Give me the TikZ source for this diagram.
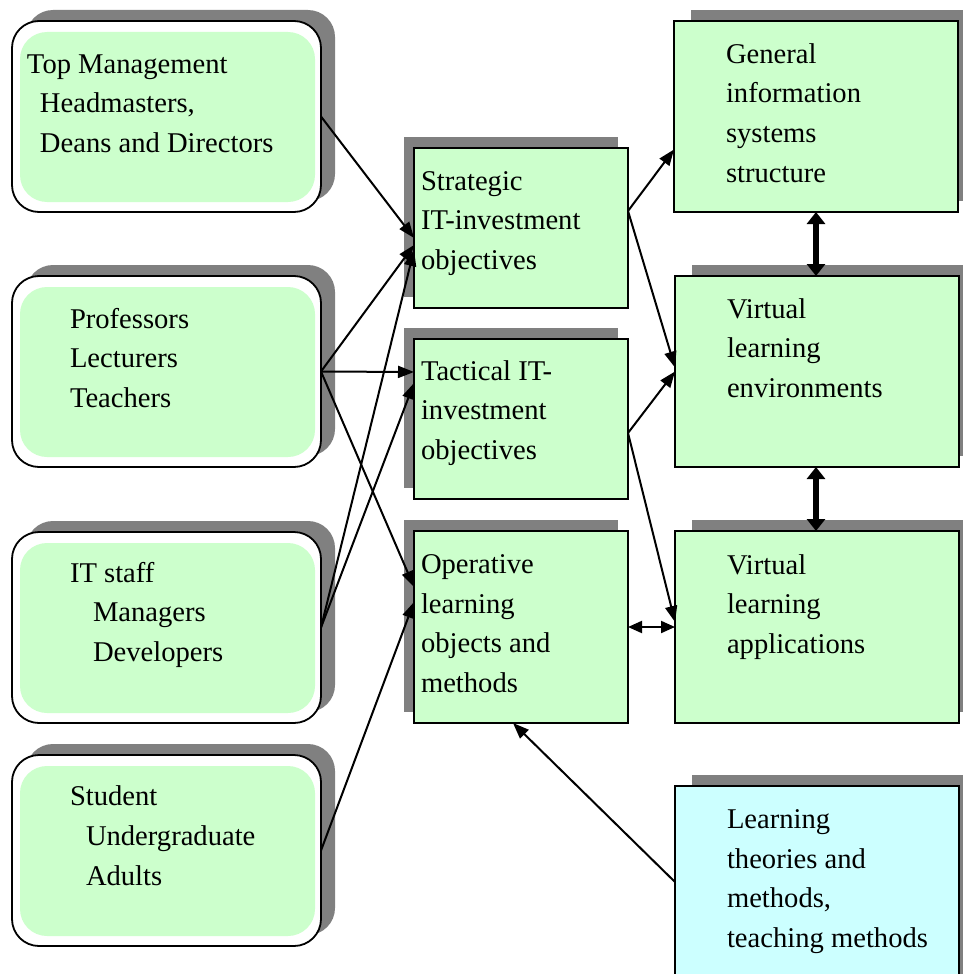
\documentclass[tikz,border=0pt]{standalone}
\usepackage{fontspec}
\setmainfont{Liberation Serif}
\usetikzlibrary{arrows.meta,shadows,calc}
\definecolor{boxgreen}{HTML}{CCFFCC}
\definecolor{boxcyan}{HTML}{CCFFFF}
\definecolor{shadowgray}{HTML}{808080}
\begin{document}
\begin{tikzpicture}[x=1pt,y=-1pt,
  every node/.style={outer sep=0pt},
  % rounded group boxes on the left
  groupbox/.style={draw=black, line width=1.8pt, fill=white, rounded corners=27pt,
    anchor=north west, minimum width=309pt, minimum height=191pt,
    drop shadow={shadow xshift=14pt, shadow yshift=11pt, fill=shadowgray, opacity=1},
    path picture={\fill[boxgreen]
      ([xshift=8pt,yshift=-11pt]path picture bounding box.north west) rectangle
      ([xshift=-6pt,yshift=10pt]path picture bounding box.south east);}},
  % objective boxes in the middle column
  objbox/.style={draw=black, line width=1.8pt, fill=boxgreen, anchor=north west,
    minimum width=214pt,
    drop shadow={shadow xshift=-10pt, shadow yshift=11pt, fill=shadowgray, opacity=1}},
  % system boxes in the right column
  sysbox/.style={draw=black, line width=1.8pt, fill=boxgreen, anchor=north west,
    minimum width=284pt,
    drop shadow={shadow xshift=17pt, shadow yshift=11pt, fill=shadowgray, opacity=1}},
  % multi-line labels, placed at the baseline of their last line
  label/.style={anchor=base west, inner sep=0pt, align=left,
    font=\fontsize{28.6pt}{39.7pt}\selectfont},
  conn/.style={line width=2pt, -{Triangle[length=16pt,width=12pt]}},
  dconn/.style={line width=2pt, {Triangle[length=14pt,width=12pt]}-{Triangle[length=14pt,width=12pt]}},
  thickconn/.style={line width=5.5pt, {Triangle[length=12pt,width=18pt]}-{Triangle[length=12pt,width=18pt]}}
]
\useasboundingbox (0,0) rectangle (963,974);
\clip (0,0) rectangle (963,974);

% left column: stakeholder groups
\node[groupbox] (tm)  at (12,21)  {};
\node[groupbox] (pr)  at (12,276) {};
\node[groupbox] (it)  at (12,532) {};
\node[groupbox] (stu) at (12,755) {};

% middle column: objectives
\node[objbox, minimum height=160pt] (st)  at (414,148) {};
\node[objbox, minimum height=160pt] (tac) at (414,339) {};
\node[objbox, minimum height=192pt] (op)  at (414,531) {};

% right column: systems and theory
\node[sysbox, minimum height=191pt] (gen) at (674,21)  {};
\node[sysbox, minimum height=191pt] (ve)  at (675,276) {};
\node[sysbox, minimum height=192pt] (vla) at (675,531) {};
\node[sysbox, minimum height=200pt, fill=boxcyan] (lt) at (675,786) {};

% texts
\node[label] (tmt)  at (27,152.4)  {Top Management\\\hspace*{13pt}Headmasters,\\\hspace*{13pt}Deans and Directors};
\node[label] (prt)  at (70,407.4) {Professors\\Lecturers\\Teachers};
\node[label] (itt)  at (70,661.4) {IT staff\\\hspace*{23pt}Managers\\\hspace*{23pt}Developers};
\node[label] (stut) at (70,885) {Student\\\hspace*{16pt}Undergraduate\\\hspace*{16pt}Adults};
\node[label] (stt)  at (421,269.4) {Strategic\\IT-investment\\objectives};
\node[label] (tact) at (421,459.4) {Tactical IT-\\investment\\objectives};
\node[label] (opt)  at (421,692.5) {Operative\\learning\\objects and\\methods};
\node[label] (gent) at (726,182.2)  {General\\information\\systems\\structure};
\node[label] (vet)  at (727,397.4) {Virtual\\learning\\environments};
\node[label] (vlat) at (727,653.4) {Virtual\\learning\\applications};
\node[label] (ltt)  at (727,947.5) {Learning\\theories and\\methods,\\teaching methods};

% connectors from groups to objectives
\draw[conn] (tm.east) -- ($(st.west)+(0,10)$);
\draw[conn] (pr.east) -- ($(st.west)+(0,17)$);
\draw[conn] (pr.east) -- ($(tac.west)+(0,-47)$);
\draw[conn] (pr.east) -- ($(op.west)+(0,-40)$);
\draw[conn] (it.east) -- ($(st.west)+(0,22)$);
\draw[conn] (it.east) -- ($(tac.west)+(0,-36)$);
\draw[conn] (stu.east) -- ($(op.west)+(0,-25)$);

% connectors from objectives to systems
\coordinate (stout) at ($(st.east)+(0,-17)$);
\coordinate (tacout) at ($(tac.east)+(0,14)$);
\draw[conn] (stout) -- ($(gen.west)+(0,33)$);
\draw[conn] (stout) -- ($(ve.west)+(0,-4)$);
\draw[conn] (tacout) -- (ve.west);
\draw[conn] (tacout) -- ($(vla.west)+(0,-5)$);
\draw[dconn] (op.east) -- (vla.west);

% links between the system boxes
\draw[thickconn] (gen.south) -- (ve.north -| gen.south);
\draw[thickconn] (ve.south -| gen.south) -- (vla.north -| gen.south);

% learning theories feed the operative level
\coordinate (ltout) at ($(lt.north west)+(0,96)$);
\draw[conn] (ltout) -- ($(op.south)+(-8,0)$);
\end{tikzpicture}
\end{document}
